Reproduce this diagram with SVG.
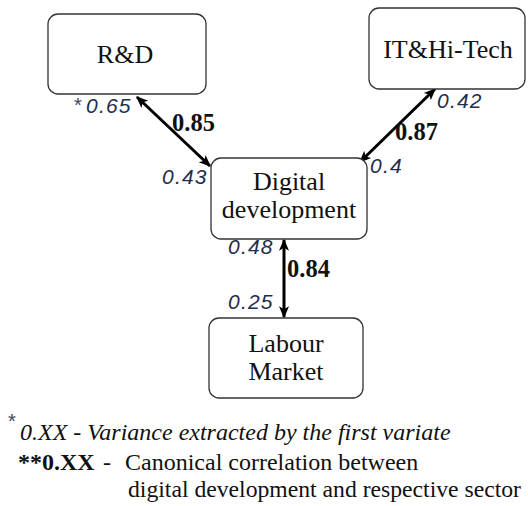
<svg xmlns="http://www.w3.org/2000/svg" width="528" height="506" viewBox="0 0 528 506">
<defs>
<marker id="ah" viewBox="0 0 10 10" refX="9" refY="5" markerWidth="4" markerHeight="4" orient="auto-start-reverse" markerUnits="strokeWidth">
<path d="M0,0.8 L10,5 L0,9.2 L2.5,5 Z" fill="#000"/>
</marker>
<style>
.box{fill:#fff;stroke:#333;stroke-width:1.3}
.nt{font-family:"Liberation Serif",serif;font-size:26px;fill:#111;text-anchor:middle}
.it{font-family:"Liberation Sans",sans-serif;font-style:italic;font-size:21px;fill:#1f2d4d;letter-spacing:1.2px}
.bd{font-family:"Liberation Serif",serif;font-weight:bold;font-size:24.5px;fill:#111}
.conn{stroke:#000;stroke-width:3;fill:none;marker-start:url(#ah);marker-end:url(#ah)}
.lg{font-family:"Liberation Serif",serif;font-size:24px;fill:#111}
.ast{font-family:"Liberation Sans",sans-serif;font-size:20px;fill:#3a4560}
</style>
</defs>
<rect width="528" height="506" fill="#fff"/>
<g id="connectors">
<line class="conn" x1="137" y1="97" x2="210" y2="166"/>
<line class="conn" x1="435" y1="89" x2="360" y2="162"/>
<line class="conn" x1="284" y1="240" x2="284" y2="317"/>
</g>
<g id="rd">
<rect class="box" x="48" y="14" width="158" height="80" rx="10"/>
<text class="nt" x="125" y="63">R&amp;D</text>
</g>
<g id="it">
<rect class="box" x="369" y="8" width="156" height="81" rx="10"/>
<text class="nt" x="448" y="58">IT&amp;Hi-Tech</text>
</g>
<g id="digital">
<rect class="box" x="211" y="158" width="156" height="81" rx="10"/>
<text class="nt" x="289" y="190">Digital</text>
<text class="nt" x="289" y="218">development</text>
</g>
<g id="labour">
<rect class="box" x="209" y="318" width="154" height="80" rx="10"/>
<text class="nt" x="286" y="352">Labour</text>
<text class="nt" x="286" y="380">Market</text>
</g>
<g id="labels">
<text class="ast" x="74" y="112">*</text>
<text class="it" x="86" y="113">0.65</text>
<text class="it" x="162" y="184">0.43</text>
<text class="bd" x="172" y="131">0.85</text>
<text class="it" x="437" y="108">0.42</text>
<text class="it" x="370" y="173">0.4</text>
<text class="bd" x="395" y="140">0.87</text>
<text class="it" x="228" y="254">0.48</text>
<text class="it" x="228" y="309">0.25</text>
<text class="bd" x="287" y="277">0.84</text>
</g>
<g id="legend">
<text class="ast" x="8" y="428">*</text>
<text class="lg" x="20" y="440" font-style="italic">0.XX - Variance extracted by the first variate</text>
<text class="lg" x="18" y="470" font-weight="bold">**0.XX</text>
<text class="lg" x="103" y="470">-</text>
<text class="lg" x="125" y="470">Canonical correlation between</text>
<text class="lg" x="128" y="497" textLength="393" lengthAdjust="spacingAndGlyphs">digital development and respective sector</text>
</g>
</svg>
